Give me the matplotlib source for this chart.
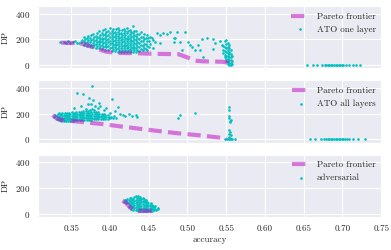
import numpy as np
import matplotlib
matplotlib.use("Agg")
import matplotlib.pyplot as plt
import seaborn as sns

# ---- data ----
# panel 1: ATO one layer (dense cloud given column by column)
one_cols_acc = [0.366, 0.370, 0.374, 0.378, 0.382, 0.386, 0.390, 0.394, 0.398, 0.402,
                0.406, 0.410, 0.414, 0.418, 0.422, 0.426, 0.430, 0.434, 0.438, 0.442,
                0.446, 0.450]
one_cols_dp = [
    [158, 172, 190, 205, 221],
    [150, 165, 178, 196, 210, 228],
    [146, 160, 183, 199, 214, 236],
    [141, 155, 170, 188, 204, 219, 242],
    [137, 152, 166, 180, 195, 211, 226, 251],
    [132, 148, 161, 177, 190, 207, 222, 238, 262],
    [128, 143, 158, 171, 186, 200, 215, 231, 248, 270],
    [122, 139, 152, 166, 180, 197, 212, 226, 243, 259, 281],
    [118, 133, 149, 163, 177, 191, 205, 220, 236, 252, 268, 288],
    [113, 129, 144, 158, 173, 186, 201, 217, 232, 247, 263, 279],
    [110, 124, 140, 155, 168, 183, 199, 213, 228, 244, 260, 285],
    [106, 121, 137, 151, 166, 181, 195, 209, 224, 240, 256, 272, 292],
    [104, 119, 133, 148, 163, 177, 192, 206, 221, 238, 253, 270],
    [102, 117, 131, 146, 160, 175, 189, 203, 218, 233, 250, 266, 283],
    [101, 116, 130, 144, 158, 172, 187, 201, 215, 230, 247, 262, 289],
    [100, 115, 129, 142, 156, 171, 185, 199, 214, 228, 244, 258, 276],
    [102, 117, 131, 145, 159, 174, 188, 203, 218, 236, 251, 268, 306],
    [104, 120, 135, 150, 164, 178, 194, 210, 226, 243, 262],
    [108, 125, 141, 157, 172, 188, 205, 222, 240, 255],
    [115, 132, 150, 168, 186, 204, 223, 242],
    [128, 147, 166, 187, 210, 232],
    [140, 163, 190, 218],
]
one_acc = [0.336, 0.340, 0.343, 0.346, 0.349, 0.352, 0.355, 0.357, 0.360, 0.362, 0.364,
           0.449, 0.456, 0.465, 0.469, 0.478, 0.484, 0.465, 0.456, 0.448, 0.4545, 0.458,
           0.461, 0.474, 0.482, 0.490, 0.497, 0.501, 0.506, 0.510, 0.514, 0.487, 0.482,
           0.493, 0.503, 0.516, 0.519, 0.525, 0.520, 0.533, 0.536, 0.533, 0.542, 0.544,
           0.546, 0.546, 0.546, 0.548, 0.548, 0.548, 0.548, 0.548,
           0.550, 0.550, 0.550, 0.550, 0.550, 0.550, 0.550,
           0.552, 0.552, 0.552, 0.552, 0.552, 0.552, 0.552, 0.552,
           0.554, 0.554, 0.554, 0.554, 0.554, 0.554, 0.554, 0.554,
           0.556, 0.556, 0.556, 0.556, 0.556, 0.556, 0.558, 0.558, 0.558,
           0.654, 0.662, 0.667, 0.674, 0.677, 0.679, 0.681, 0.683, 0.685, 0.687, 0.689,
           0.691, 0.693, 0.695, 0.697, 0.699, 0.701, 0.705, 0.709, 0.713, 0.718, 0.723]
one_dp = [178, 182, 175, 185, 172, 180, 188, 170, 176, 183, 192,
          212, 196, 235, 251, 259, 212, 173, 133, 118, 212, 180,
          250, 243, 180, 180, 260, 180, 141, 118, 157, 259, 212,
          118, 157, 118, 204, 212, 63, 204, 173, 125, 188, 160,
          150, 120, 95, 185, 140, 110, 80, 60,
          196, 165, 130, 100, 75, 50, 30,
          170, 145, 120, 95, 70, 45, 25, 10,
          155, 130, 105, 85, 60, 40, 20, 5,
          120, 90, 65, 40, 15, 2, 70, 35, 10,
          3, 2, 4, 2, 3, 1, 4, 2, 3, 1, 2,
          4, 2, 3, 1, 2, 3, 2, 4, 2, 3, 2]
one_front_acc = [0.337, 0.360, 0.368, 0.385, 0.395, 0.410, 0.430, 0.460, 0.488,
                 0.500, 0.510, 0.520, 0.545, 0.552, 0.554]
one_front_dp = [175, 170, 160, 125, 105, 95, 94, 88, 86, 60, 35, 30, 27, 20, 2]

# panel 2: ATO all layers
all_cols_acc = [0.328, 0.331, 0.334, 0.337, 0.340, 0.343, 0.346, 0.349, 0.352, 0.355,
                0.358, 0.361, 0.364, 0.367, 0.370, 0.373, 0.376, 0.379, 0.382, 0.385,
                0.388, 0.391, 0.394, 0.397, 0.400, 0.404, 0.408]
all_cols_dp = [
    [175, 190],
    [160, 172, 185, 198],
    [150, 163, 176, 190, 203],
    [146, 158, 170, 182, 195, 207],
    [143, 155, 167, 179, 192, 204],
    [145, 157, 169, 181, 194, 208],
    [144, 156, 168, 180, 193, 205],
    [146, 158, 170, 183, 196, 210],
    [147, 159, 171, 184, 197, 209],
    [148, 160, 173, 185, 198, 212],
    [149, 161, 174, 187, 200, 214],
    [150, 163, 175, 188, 201, 215],
    [151, 164, 177, 190, 203, 218],
    [152, 165, 178, 191, 205, 222],
    [153, 166, 179, 193, 207, 225],
    [154, 167, 180, 194, 208, 230],
    [155, 168, 182, 196, 210, 236],
    [156, 169, 183, 197, 212],
    [157, 170, 184, 198, 213],
    [158, 171, 185, 199, 214],
    [159, 172, 186, 200],
    [160, 173, 187, 201],
    [161, 174, 188],
    [163, 176, 190],
    [165, 178],
    [167, 180],
    [170],
]
all_acc = [0.377, 0.358, 0.365, 0.373, 0.378, 0.375, 0.371, 0.381, 0.387, 0.363, 0.384,
           0.353, 0.403, 0.410, 0.407, 0.400, 0.413, 0.417, 0.424, 0.433, 0.435, 0.420,
           0.428, 0.488, 0.490, 0.510, 0.369, 0.380, 0.392, 0.395, 0.386,
           0.554, 0.554, 0.553, 0.554, 0.555, 0.556, 0.555, 0.553, 0.555, 0.553, 0.556,
           0.554, 0.555, 0.554, 0.548, 0.551, 0.553, 0.556, 0.558, 0.561,
           0.658, 0.665, 0.672, 0.676, 0.679, 0.681, 0.683, 0.685, 0.687, 0.689, 0.691,
           0.693, 0.695, 0.697, 0.699, 0.701, 0.703, 0.706, 0.709, 0.714, 0.720, 0.729]
all_dp = [415, 362, 355, 325, 309, 279, 272, 264, 264, 264, 242,
          242, 317, 249, 219, 204, 196, 190, 196, 189, 174, 180,
          185, 166, 189, 204, 240, 230, 228, 245, 285,
          249, 226, 181, 166, 143, 150, 138, 75, 60, 45, 38,
          23, 10, 0, 4, 3, 5, 3, 4, 5,
          5, 6, 4, 5, 6, 5, 4, 6, 5, 4, 6,
          5, 4, 6, 5, 4, 6, 5, 5, 4, 6, 5]
all_front_acc = [0.326, 0.332, 0.340, 0.387, 0.440, 0.485, 0.516, 0.551]
all_front_dp = [190, 160, 150, 122, 82, 50, 32, 8]

# panel 3: adversarial
adv_cols_acc = [0.418, 0.421, 0.424, 0.427, 0.430, 0.433, 0.436, 0.439, 0.442, 0.445,
                0.448, 0.451, 0.454, 0.457, 0.460, 0.462]
adv_cols_dp = [
    [95, 105],
    [80, 92, 104, 112],
    [55, 68, 82, 96, 110, 120],
    [40, 52, 66, 80, 94, 108, 122],
    [30, 43, 57, 71, 85, 99, 113, 127],
    [26, 38, 52, 66, 80, 94, 108, 122, 140],
    [24, 36, 50, 64, 78, 92, 106, 120, 135],
    [23, 35, 48, 62, 76, 90, 104, 118, 130],
    [22, 34, 47, 60, 74, 88, 101, 115, 126],
    [22, 34, 46, 59, 72, 85, 98, 110],
    [22, 33, 45, 57, 70, 83, 95],
    [23, 34, 46, 58, 70, 82],
    [25, 36, 48, 60, 70],
    [28, 40, 52, 60],
    [32, 44],
    [38],
]
adv_front_acc = [0.416, 0.420, 0.425, 0.430, 0.440, 0.455]
adv_front_dp = [100, 90, 55, 30, 22, 22]

x_ticks = [0.35, 0.40, 0.45, 0.50, 0.55, 0.60, 0.65, 0.70, 0.75]
y_ticks = [0, 200, 400]


def flatten(cols_acc, cols_dp, extra_acc=(), extra_dp=()):
    # stagger every other point of a column a little so the cloud looks less gridded
    xs = [a + 0.0014 * (i % 2) for a, col in zip(cols_acc, cols_dp) for i, _ in enumerate(col)]
    ys = [d for col in cols_dp for d in col]
    return np.array(xs + list(extra_acc)), np.array(ys + list(extra_dp))


sns.set_style("darkgrid")
plt.rcParams['font.family'] = ['cmr10', 'DejaVu Serif']
plt.rcParams['axes.formatter.use_mathtext'] = True
plt.rcParams['font.size'] = 6.5

fig, axes = plt.subplots(3, 1, figsize=(3.91, 2.5), dpi=100, sharex=True)
fig.subplots_adjust(left=0.097, right=0.977, top=0.976, bottom=0.132, hspace=0.19)

panels = [
    (flatten(one_cols_acc, one_cols_dp, one_acc, one_dp), one_front_acc, one_front_dp, "ATO one layer"),
    (flatten(all_cols_acc, all_cols_dp, all_acc, all_dp), all_front_acc, all_front_dp, "ATO all layers"),
    (flatten(adv_cols_acc, adv_cols_dp), adv_front_acc, adv_front_dp, "adversarial"),
]

for ax, ((xs, ys), fx, fy, name) in zip(axes, panels):
    pts = ax.scatter(xs, ys, s=3.5, color='c', linewidths=0, label=name, zorder=2)
    line, = ax.plot(fx, fy, color='m', alpha=0.5, lw=3, dashes=(3.2, 1.5),
                    label="Pareto frontier", zorder=3)
    ax.set_ylim(-25, 460)
    ax.set_yticks(y_ticks)
    ax.set_ylabel("DP")
    ax.tick_params(labelsize=6.5, pad=2)
    ax.legend(handles=[line, pts], loc='upper right', frameon=False, fontsize=6.5,
              scatterpoints=1, handlelength=2.0, borderaxespad=0.3, labelspacing=0.5)

axes[-1].set_xlim(0.307, 0.751)
axes[-1].set_xticks(x_ticks)
axes[-1].set_xticklabels(["%.2f" % t for t in x_ticks])
axes[-1].set_xlabel("accuracy", labelpad=2)

fig.savefig("out.png", dpi=100)
